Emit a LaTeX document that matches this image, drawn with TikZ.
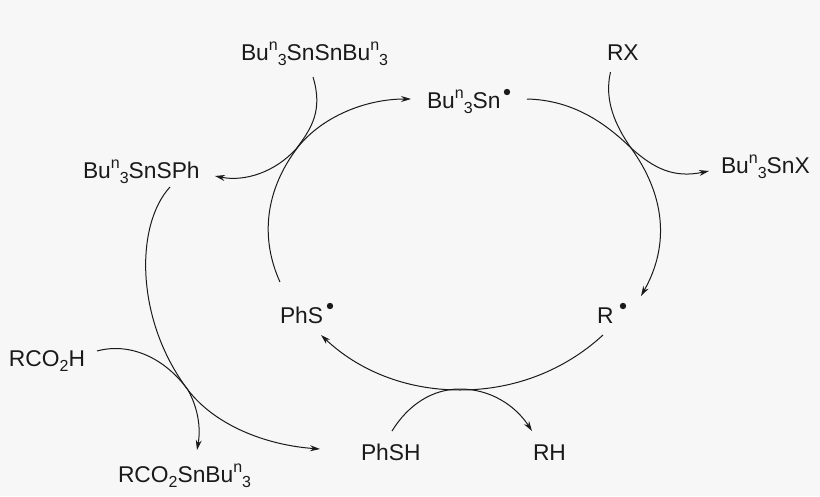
\documentclass[tikz,border=0pt]{standalone}
\usepackage{fontspec}
\setmainfont{Liberation Sans}
\usetikzlibrary{arrows.meta}
\definecolor{bgc}{HTML}{F7F7F7}
\definecolor{ink}{HTML}{1A1A1A}
\newcommand{\supn}{\raisebox{0.42em}{\fontsize{16}{16}\selectfont n}}
\newcommand{\subd}[1]{\raisebox{-0.22em}{\fontsize{16}{16}\selectfont #1}}
\newcommand{\BuT}{Bu\supn\subd{3}}
\tikzset{
  label text/.style={anchor=base west,inner sep=0pt,outer sep=0pt,text=ink,font=\fontsize{22.8}{24}\selectfont},
  radical/.style={circle,fill=ink,inner sep=0pt,minimum size=6.4pt},
  curve/.style={draw=ink,line width=1pt},
  curve arrow/.style={curve,-{Stealth[length=10pt,width=6pt]}}
}
\begin{document}
\begin{tikzpicture}[x=1pt,y=-1pt]
\path[fill=bgc] (0,0) rectangle (820,496);
\useasboundingbox (0,0) rectangle (820,496);
% labels
\node[label text] (ditin) at (241,60) {\BuT SnSn\BuT};
\node[label text] (tin) at (427,108) {\BuT Sn};
\node[radical] (tindot) at (507,92) {};
\node[label text] (rx) at (607,60) {RX};
\node[label text] (tinx) at (721,173) {\BuT SnX};
\node[label text] (tinsph) at (83,178) {\BuT SnSPh};
\node[label text] (phs) at (280,323) {PhS};
\node[radical] (phsdot) at (330,306) {};
\node[label text] (r) at (597,323) {R};
\node[radical] (rdot) at (623,306) {};
\node[label text] (phsh) at (361,460) {PhSH};
\node[label text] (rh) at (533,460) {RH};
\node[label text] (acid) at (9,366) {RCO\subd{2}H};
\node[label text] (ester) at (118,482) {RCO\subd{2}SnBu\supn\subd{3}};
% connector ends
\coordinate (phsOut) at (280,282);
\coordinate (tinIn) at (411,99);
\coordinate (ditinOut) at (313,77);
\coordinate (tinsphIn) at (215,176);
\coordinate (tinOut) at (527,99);
\coordinate (tinxIn) at (709,171);
\coordinate (rxOut) at (610.5,72);
\coordinate (rIn) at (641,296);
\coordinate (rOut) at (603,335);
\coordinate (phsIn) at (321,335);
\coordinate (phshOut) at (392,431);
\coordinate (rhIn) at (532,431);
\coordinate (tinsphOut) at (170,187);
\coordinate (phshIn) at (320,449);
\coordinate (acidOut) at (97,351);
\coordinate (esterIn) at (197,450);
% connectors
\draw[curve arrow] (phsOut) .. controls (260,238) and (265,190) .. (298,147) .. controls (322,117) and (365,99) .. (tinIn);
\draw[curve arrow] (ditinOut) .. controls (323,110) and (312,128) .. (296,149) .. controls (275,172) and (245,182) .. (tinsphIn);
\draw[curve arrow] (tinOut) .. controls (568,100) and (600,118) .. (630,147) .. controls (655,170) and (675,178) .. (tinxIn);
\draw[curve arrow] (rxOut) .. controls (604,100) and (615,125) .. (631,148) .. controls (665,195) and (670,245) .. (rIn);
\draw[curve arrow] (rOut) .. controls (565,370) and (515,390) .. (460,390) .. controls (405,390) and (358,370) .. (phsIn);
\draw[curve arrow] (phshOut) .. controls (408,405) and (432,389) .. (460,389) .. controls (490,389) and (515,405) .. (rhIn);
\draw[curve arrow] (tinsphOut) .. controls (135,225) and (135,320) .. (188,390) .. controls (215,425) and (265,445) .. (phshIn);
\draw[curve arrow] (acidOut) .. controls (130,342) and (165,358) .. (188,390) .. controls (198,408) and (201,428) .. (esterIn);
\end{tikzpicture}
\end{document}
